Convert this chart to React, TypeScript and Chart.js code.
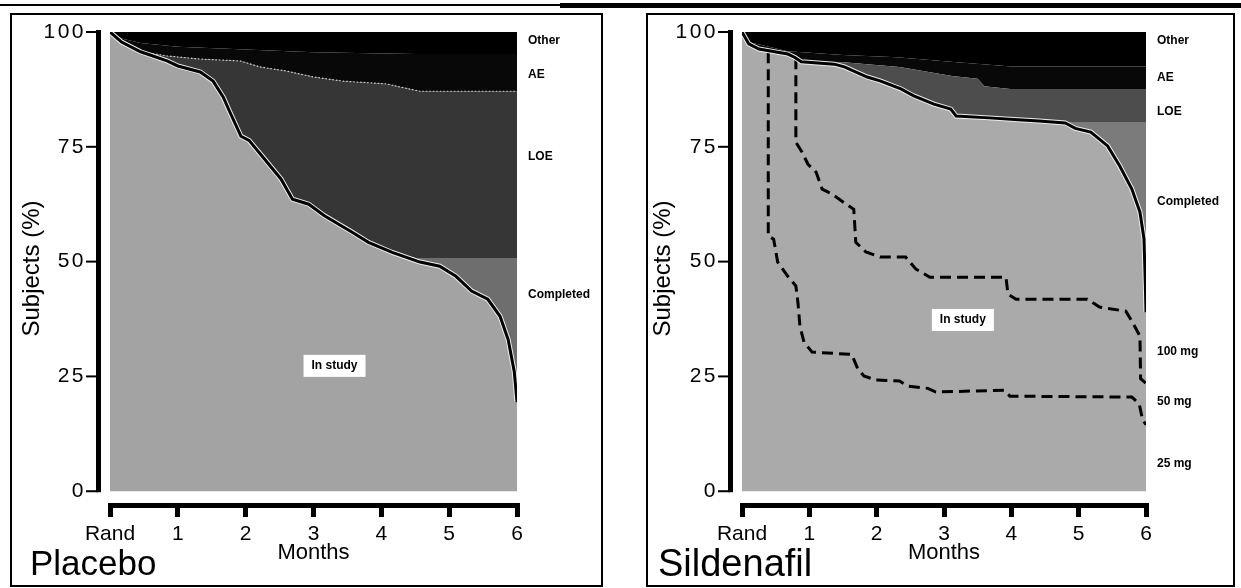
import React, { useEffect, useRef } from 'react';
import { Chart, registerables } from 'chart.js';

Chart.register(...registerables);

type P = [number, number];

const FONT = '"Liberation Sans", Arial, Helvetica, sans-serif';

const xTickValues = [0, 1, 2, 3, 4, 5, 6];
const xTickLabels = ['Rand', '1', '2', '3', '4', '5', '6'];
const yTickValues = [0, 25, 50, 75, 100];

// ---------- Placebo: cumulative boundaries (% of subjects, from bottom) ----------
const placeboInStudy: P[] = [
  [0, 100], [0.17, 97.8], [0.45, 95.7], [0.84, 93.7], [1.0, 92.6], [1.33, 91.3], [1.52, 89.3],
  [1.67, 85.8], [1.76, 82.8], [1.93, 77.3], [2.05, 76.4], [2.28, 72.3], [2.52, 68], [2.69, 63.6],
  [2.93, 62.5], [3.16, 60], [3.57, 56.4], [3.81, 54.2], [4.16, 52], [4.57, 49.9], [4.86, 49],
  [5.1, 46.8], [5.33, 43.6], [5.57, 41.8], [5.75, 38.1], [5.87, 33], [5.96, 26], [6, 19.4],
];
const placeboCompleted: P[] = [
  [0, 100], [0.17, 97.8], [0.45, 95.7], [0.84, 93.7], [1.0, 92.6], [1.33, 91.3], [1.52, 89.3],
  [1.67, 85.8], [1.76, 82.8], [1.93, 77.3], [2.05, 76.4], [2.28, 72.3], [2.52, 68], [2.69, 63.6],
  [2.93, 62.5], [3.16, 60], [3.57, 56.4], [3.81, 54.2], [4.16, 52], [4.5, 50.8], [6, 50.8],
];
const placeboLOE: P[] = [
  [0, 100], [0.17, 97.8], [0.45, 95.7], [0.84, 94.8], [1.33, 94.1], [1.92, 93.7], [2.21, 92.4],
  [2.6, 91.5], [3.0, 90.2], [3.44, 89.3], [4.08, 88.7], [4.28, 88], [4.57, 87.1], [6, 87.1],
];
const placeboAE: P[] = [
  [0, 100], [0.17, 98.6], [0.45, 97.6], [1.0, 96.8], [2.0, 96.2], [3.0, 95.6], [4.5, 95.2], [6, 95.2],
];
const placeboOther: P[] = [[0, 100], [6, 100]];

const placeboSideLabels = ['Other', 'AE', 'LOE', 'Completed'];
const placeboSideLabelY = [98, 90.8, 72.8, 42.7];

// ---------- Sildenafil ----------
const sildInStudy: P[] = [
  [0, 100], [0.1, 97.4], [0.25, 96.3], [0.68, 95.2], [0.78, 94.5], [0.88, 93.5], [1.37, 93],
  [1.52, 92.4], [1.86, 90.2], [2.06, 89.3], [2.36, 87.6], [2.55, 86.1], [2.85, 84.3], [3.1, 83.2],
  [3.18, 81.7], [3.67, 81.3], [4.1, 80.9], [4.41, 80.6], [4.8, 80.2], [4.95, 79], [5.18, 78.2],
  [5.43, 75.2], [5.61, 70.8], [5.79, 65.8], [5.91, 60.8], [5.97, 55], [5.99, 45], [6, 39],
];
const sildCompleted: P[] = [
  [0, 100], [0.1, 97.4], [0.25, 96.3], [0.68, 95.2], [0.78, 94.5], [0.88, 93.5], [1.37, 93],
  [1.52, 92.4], [1.86, 90.2], [2.06, 89.3], [2.36, 87.6], [2.55, 86.1], [2.85, 84.3], [3.1, 83.2],
  [3.18, 81.7], [3.67, 81.3], [4.1, 80.9], [4.41, 80.6], [4.8, 80.4], [6, 80.4],
];
const sildLOE: P[] = [
  [0, 100], [0.1, 97.4], [0.25, 96.3], [0.68, 95.2], [0.78, 94.5], [0.88, 93.5], [1.2, 93.4],
  [1.51, 93.4], [2.34, 92.4], [3.12, 90.4], [3.5, 89.8], [3.6, 88.2], [3.98, 87.6], [6, 87.6],
];
const sildAE: P[] = [
  [0, 100], [0.1, 97.8], [0.68, 95.8], [1.5, 95], [2.3, 94.5], [3.1, 93.5], [4, 92.5], [6, 92.5],
];
const sildOther: P[] = [[0, 100], [6, 100]];

// dose split lines inside "In study"
const sild100vs50: P[] = [
  [0.8, 94.3], [0.8, 76], [0.89, 73.9], [0.98, 71.2], [1.1, 69.5], [1.19, 65.8], [1.34, 64.7],
  [1.48, 63.2], [1.66, 61.4], [1.69, 54.2], [1.84, 52.1], [2.05, 51], [2.43, 51], [2.58, 48.4],
  [2.79, 46.6], [3.92, 46.6], [3.95, 42.9], [4.07, 41.8], [5.13, 41.8], [5.31, 40.1], [5.7, 39.2],
  [5.79, 37], [5.91, 33.8], [5.92, 24.5], [6, 23.5],
];
const sild50vs25: P[] = [
  [0.39, 95.6], [0.39, 55.6], [0.47, 54.9], [0.53, 49.9], [0.68, 46.8], [0.8, 44.7], [0.83, 41.2],
  [0.86, 36], [0.92, 32.5], [1.04, 30.3], [1.63, 29.8], [1.72, 26.6], [1.81, 25.1], [1.99, 24.2],
  [2.34, 24], [2.46, 22.9], [2.76, 22.4], [2.88, 21.6], [3.89, 22], [3.98, 20.7], [5.79, 20.5],
  [5.9, 19], [5.95, 15.5], [6, 14.5],
];

const sildSideLabels = ['Other', 'AE', 'LOE', 'Completed', '100 mg', '50 mg', '25 mg'];
const sildSideLabelY = [98, 90, 82.6, 63, 30.3, 19.6, 5.9];

type PanelProps = {
  name: string;
  boundaries: P[][];
  doseLines: P[][];
  colors: string[];
  loeLine: string;
  sideLabels: string[];
  sideLabelY: number[];
  inStudyAt: P;
  box: { left: number; top: number; width: number; height: number };
  yWidth: number;
  padRight: number;
  yTitlePad: number;
  nameX: number;
  nameBaseline: number;
  nameSize: number;
};

const toXY = (pts: P[]) => pts.map(([x, y]) => ({ x, y }));

function decorPlugin(p: PanelProps) {
  return {
    id: 'panelDecor',
    afterLayout(chart: any) {
      const s = chart.scales.y;
      if (s && !s.__ls) {
        const orig = s.drawLabels.bind(s);
        s.drawLabels = (area: any) => {
          const ctx = chart.ctx;
          ctx.save();
          ctx.letterSpacing = '2.5px';
          orig(area);
          ctx.restore();
        };
        s.__ls = true;
      }
    },
    afterDraw(chart: any) {
      const { ctx, chartArea } = chart;
      const x = chart.scales.x;
      const y = chart.scales.y;
      const x0 = x.getPixelForValue(0);
      const yTop = y.getPixelForValue(100);
      const yBot = y.getPixelForValue(0);
      ctx.save();
      // y axis bar (range frame)
      ctx.fillStyle = '#000';
      ctx.fillRect(x0 - 14, yTop - 2, 5, yBot - yTop + 3);
      ctx.strokeStyle = '#000';
      ctx.lineWidth = 2;
      for (const v of yTickValues) {
        const py = y.getPixelForValue(v);
        ctx.beginPath();
        ctx.moveTo(x0 - 24, py);
        ctx.lineTo(x0 - 12, py);
        ctx.stroke();
      }
      // side labels
      ctx.font = `bold 12px ${FONT}`;
      ctx.textBaseline = 'middle';
      ctx.textAlign = 'left';
      p.sideLabels.forEach((t, i) => {
        ctx.fillText(t, chartArea.right + 11, y.getPixelForValue(p.sideLabelY[i]));
      });
      // "In study" box
      const cx = x.getPixelForValue(p.inStudyAt[0]);
      const cy = y.getPixelForValue(p.inStudyAt[1]);
      ctx.fillStyle = '#fff';
      ctx.fillRect(cx - 31, cy - 11, 62, 22);
      ctx.fillStyle = '#000';
      ctx.textAlign = 'center';
      ctx.fillText('In study', cx, cy);
      // panel name
      ctx.font = `${p.nameSize}px ${FONT}`;
      ctx.textAlign = 'left';
      ctx.textBaseline = 'alphabetic';
      ctx.fillText(p.name, p.nameX, p.nameBaseline);
      ctx.restore();
    },
  };
}

function Panel(p: PanelProps) {
  const ref = useRef<HTMLCanvasElement>(null);
  const cw = p.box.width - 4;
  const ch = p.box.height - 4;

  useEffect(() => {
    if (!ref.current) return;
    const [inStudy, completed, loe, ae, other] = p.boundaries;
    const clear = 'rgba(0,0,0,0)';
    const datasets: any[] = [
      { data: toXY(inStudy), fill: 'origin', backgroundColor: p.colors[0], borderColor: '#000', borderWidth: 3 },
      { data: toXY(completed), fill: '-1', backgroundColor: p.colors[1], borderColor: clear, borderWidth: 0 },
      { data: toXY(loe), fill: '-1', backgroundColor: p.colors[2], borderColor: p.loeLine, borderWidth: 1.2, borderDash: [1.5, 2] },
      { data: toXY(ae), fill: '-1', backgroundColor: p.colors[3], borderColor: clear, borderWidth: 0 },
      { data: toXY(other), fill: '-1', backgroundColor: p.colors[4], borderColor: clear, borderWidth: 0 },
      { data: toXY(inStudy), fill: false, borderColor: '#eeeeee', borderWidth: 5 },
      ...p.doseLines.map((d) => ({
        data: toXY(d), fill: false, borderColor: '#000', borderWidth: 3, borderDash: [11, 6],
      })),
    ];
    const chart = new Chart(ref.current, {
      type: 'line',
      data: { datasets },
      options: {
        responsive: false,
        devicePixelRatio: 1,
        animation: false,
        layout: { padding: { left: 0, top: 17, right: p.padRight, bottom: 0 } },
        elements: { point: { radius: 0 }, line: { tension: 0 } },
        plugins: {
          legend: { display: false },
          tooltip: { enabled: false },
          filler: { drawTime: 'beforeDatasetsDraw' },
        },
        scales: {
          x: {
            type: 'linear',
            min: 0,
            max: 6,
            afterBuildTicks: (s: any) => { s.ticks = xTickValues.map((v) => ({ value: v })); },
            afterFit: (s: any) => { s.height = 80; },
            grid: {
              display: true, drawOnChartArea: false, drawTicks: true, tickLength: 12,
              tickWidth: 5, tickColor: '#000', lineWidth: 5, color: '#000',
            },
            border: { display: true, width: 5, color: '#000' },
            ticks: {
              padding: 5, color: '#000', maxRotation: 0, autoSkip: false,
              font: { family: FONT, size: 21 },
              callback: (_v: any, i: number) => xTickLabels[i],
            },
            title: {
              display: true, text: 'Months', color: '#000',
              font: { family: FONT, size: 22 }, padding: { top: 0, bottom: 19 },
            },
          },
          y: {
            type: 'linear',
            min: -3,
            max: 100,
            afterBuildTicks: (s: any) => { s.ticks = yTickValues.map((v) => ({ value: v })); },
            afterFit: (s: any) => { s.width = p.yWidth; },
            grid: { display: false, drawTicks: true, tickLength: 22 },
            border: { display: false },
            ticks: {
              padding: 2, color: '#000', font: { family: FONT, size: 21 },
              callback: (v: any) => String(v),
            },
            title: {
              display: true, text: 'Subjects (%)', color: '#000',
              font: { family: FONT, size: 24 }, padding: { top: p.yTitlePad, bottom: 0 },
            },
          },
        },
      } as any,
      plugins: [decorPlugin(p) as any],
    });
    return () => chart.destroy();
  }, []);

  return (
    <div
      style={{
        position: 'absolute', left: p.box.left, top: p.box.top, width: p.box.width, height: p.box.height,
        border: '2px solid #000', boxSizing: 'border-box', background: '#fff',
      }}
    >
      <canvas ref={ref} width={cw} height={ch} style={{ display: 'block', width: cw, height: ch }} />
    </div>
  );
}

export default function App() {
  return (
    <div style={{ position: 'fixed', left: 0, top: 0, width: 1241, height: 588, background: '#fff', overflow: 'hidden' }}>
      <div style={{ position: 'absolute', left: 0, top: 4, width: 1241, height: 2, background: '#000' }} />
      <div style={{ position: 'absolute', left: 560, top: 3, width: 681, height: 5, background: '#000' }} />
      <Panel
        name="Placebo"
        boundaries={[placeboInStudy, placeboCompleted, placeboLOE, placeboAE, placeboOther]}
        doseLines={[]}
        colors={['#a3a3a3', '#6e6e6e', '#363636', '#080808', '#000000']}
        loeLine="#cfcfcf"
        sideLabels={placeboSideLabels}
        sideLabelY={placeboSideLabelY}
        inStudyAt={[3.31, 27.3]}
        box={{ left: 10, top: 13, width: 593, height: 574 }}
        yWidth={98}
        padRight={84}
        yTitlePad={6}
        nameX={18}
        nameBaseline={560}
        nameSize={35}
      />
      <Panel
        name="Sildenafil"
        boundaries={[sildInStudy, sildCompleted, sildLOE, sildAE, sildOther]}
        doseLines={[sild100vs50, sild50vs25]}
        colors={['#aaaaaa', '#7b7b7b', '#4d4d4d', '#080808', '#000000']}
        loeLine="rgba(0,0,0,0)"
        sideLabels={sildSideLabels}
        sideLabelY={sildSideLabelY}
        inStudyAt={[3.28, 37.3]}
        box={{ left: 646, top: 13, width: 589, height: 574 }}
        yWidth={94}
        padRight={87}
        yTitlePad={1}
        nameX={10}
        nameBaseline={561}
        nameSize={38}
      />
    </div>
  );
}
